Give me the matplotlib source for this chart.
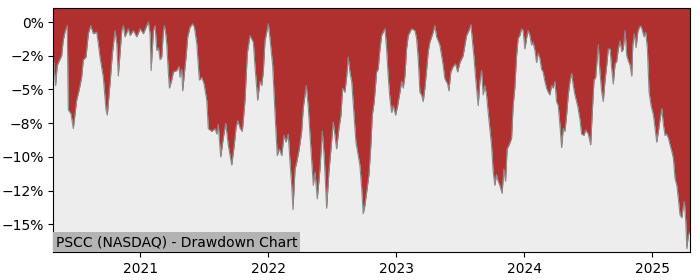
import matplotlib
matplotlib.use("Agg")
import matplotlib.pyplot as plt
import matplotlib.dates as mdates
from matplotlib.ticker import PercentFormatter
import numpy as np
import pandas as pd

# time axis as decimal years, drawdown in percent
years = [
    2020.321, 2020.339, 2020.352, 2020.386, 2020.398, 2020.412, 2020.430, 2020.438, 2020.459, 2020.477,
    2020.503, 2020.521, 2020.542, 2020.555, 2020.576, 2020.594, 2020.613, 2020.633, 2020.659, 2020.672,
    2020.685, 2020.711, 2020.732, 2020.742, 2020.763, 2020.781, 2020.802, 2020.816, 2020.828, 2020.855,
    2020.867, 2020.880, 2020.906, 2020.920, 2020.945, 2020.972, 2020.998, 2021.023, 2021.050, 2021.063,
    2021.076, 2021.084, 2021.102, 2021.115, 2021.128, 2021.141, 2021.154, 2021.167, 2021.180, 2021.188,
    2021.198, 2021.206, 2021.219, 2021.227, 2021.245, 2021.258, 2021.284, 2021.302, 2021.310, 2021.323,
    2021.331, 2021.344, 2021.357, 2021.370, 2021.388, 2021.409, 2021.422, 2021.441, 2021.461, 2021.480,
    2021.498, 2021.519, 2021.531, 2021.558, 2021.584, 2021.597, 2021.609, 2021.628, 2021.648, 2021.667,
    2021.687, 2021.714, 2021.734, 2021.748, 2021.761, 2021.781, 2021.797, 2021.818, 2021.836, 2021.857,
    2021.883, 2021.896, 2021.917, 2021.935, 2021.948, 2021.961, 2021.974, 2021.982, 2022.000, 2022.013,
    2022.034, 2022.052, 2022.070, 2022.086, 2022.105, 2022.123, 2022.138, 2022.156, 2022.170, 2022.183,
    2022.193, 2022.209, 2022.222, 2022.242, 2022.261, 2022.273, 2022.287, 2022.297, 2022.313, 2022.331,
    2022.352, 2022.365, 2022.383, 2022.404, 2022.422, 2022.438, 2022.456, 2022.474, 2022.490, 2022.508,
    2022.521, 2022.534, 2022.552, 2022.568, 2022.581, 2022.599, 2022.613, 2022.625, 2022.638, 2022.652,
    2022.670, 2022.685, 2022.703, 2022.716, 2022.730, 2022.742, 2022.755, 2022.769, 2022.787, 2022.802,
    2022.813, 2022.828, 2022.847, 2022.859, 2022.873, 2022.886, 2022.898, 2022.912, 2022.925, 2022.937,
    2022.951, 2022.964, 2022.977, 2022.995, 2023.011, 2023.029, 2023.042, 2023.055, 2023.068, 2023.081,
    2023.094, 2023.120, 2023.146, 2023.159, 2023.172, 2023.185, 2023.198, 2023.211, 2023.224, 2023.238,
    2023.250, 2023.263, 2023.289, 2023.302, 2023.316, 2023.341, 2023.355, 2023.367, 2023.380, 2023.402,
    2023.412, 2023.427, 2023.445, 2023.464, 2023.480, 2023.498, 2023.523, 2023.537, 2023.550, 2023.568,
    2023.584, 2023.589, 2023.607, 2023.623, 2023.641, 2023.654, 2023.667, 2023.680, 2023.693, 2023.706,
    2023.719, 2023.732, 2023.745, 2023.758, 2023.771, 2023.784, 2023.797, 2023.810, 2023.828, 2023.841,
    2023.855, 2023.867, 2023.883, 2023.902, 2023.914, 2023.927, 2023.941, 2023.953, 2023.966, 2023.980,
    2023.992, 2024.006, 2024.019, 2024.031, 2024.045, 2024.058, 2024.070, 2024.084, 2024.097, 2024.109,
    2024.123, 2024.136, 2024.148, 2024.162, 2024.175, 2024.188, 2024.201, 2024.214, 2024.227, 2024.240,
    2024.253, 2024.266, 2024.279, 2024.292, 2024.305, 2024.318, 2024.331, 2024.344, 2024.357, 2024.370,
    2024.383, 2024.396, 2024.417, 2024.435, 2024.448, 2024.466, 2024.480, 2024.500, 2024.519, 2024.531,
    2024.545, 2024.558, 2024.570, 2024.578, 2024.591, 2024.605, 2024.617, 2024.630, 2024.644, 2024.656,
    2024.670, 2024.683, 2024.695, 2024.709, 2024.722, 2024.734, 2024.748, 2024.761, 2024.773, 2024.787,
    2024.800, 2024.813, 2024.826, 2024.839, 2024.847, 2024.859, 2024.873, 2024.886, 2024.898, 2024.912,
    2024.925, 2024.935, 2024.948, 2024.961, 2024.974, 2024.990, 2025.008, 2025.021, 2025.034, 2025.047,
    2025.060, 2025.073, 2025.086, 2025.099, 2025.112, 2025.125, 2025.138, 2025.152, 2025.164, 2025.177,
    2025.191, 2025.203, 2025.216, 2025.230, 2025.242, 2025.250, 2025.261, 2025.269, 2025.281, 2025.294,
]
drawdown = [
    -2.6, -4.7, -3.2, -2.5, -1.4, -0.75, -0.26, -6.5, -6.8, -7.9,
    -5.8, -5.1, -4.1, -2.8, -2.6, -0.87, -0.26, -0.87, -0.75, -1.6,
    -2.6, -4.1, -6.5, -6.9, -4.6, -2.4, -0.63, -1.6, -4.0, -0.63,
    -0.26, -1.1, -0.5, -1.0, -0.63, -1.1, -0.5, -0.87, -0.26, 0.0,
    -0.87, -3.6, -0.63, -0.26, -2.1, -1.9, -2.8, -2.6, -0.63, -0.26,
    -0.87, -1.6, -3.8, -4.9, -4.3, -3.7, -3.6, -3.3, -4.1, -3.5,
    -5.1, -3.8, -2.6, -1.1, -0.38, -0.13, -0.38, -1.6, -4.3, -4.1,
    -4.6, -5.8, -7.9, -8.1, -7.9, -8.3, -7.6, -10.0, -8.6, -7.5,
    -9.1, -10.6, -9.1, -7.8, -7.3, -7.9, -8.1, -5.8, -2.3, -1.0,
    -1.5, -3.3, -5.8, -4.4, -4.7, -3.7, -1.4, -1.0, -0.13, -1.2,
    -3.2, -6.7, -9.9, -9.4, -9.9, -8.4, -8.9, -8.3, -10.4, -12.1,
    -13.9, -10.9, -10.4, -9.4, -8.1, -6.4, -5.4, -4.7, -6.4, -9.1,
    -12.1, -11.1, -13.1, -10.9, -8.1, -10.1, -13.8, -11.1, -9.4, -7.4,
    -8.4, -9.4, -7.9, -6.9, -4.9, -5.2, -4.0, -2.6, -3.7, -4.4,
    -6.9, -8.9, -9.9, -10.6, -12.3, -14.2, -13.6, -12.6, -11.3, -9.1,
    -6.9, -5.9, -3.7, -3.5, -2.0, -1.0, -0.75, -0.5, -2.0, -4.0,
    -5.7, -6.7, -6.2, -6.9, -6.2, -5.2, -4.4, -4.9, -4.0, -2.0,
    -1.0, -0.5, -0.63, -1.2, -2.7, -5.2, -5.4, -5.9, -4.9, -3.5,
    -2.2, -1.5, -0.75, -0.26, -1.1, -1.7, -2.5, -3.2, -4.2, -4.6,
    -5.1, -3.7, -3.3, -3.1, -3.7, -3.0, -2.5, -1.7, -1.0, -0.63,
    -0.2, -0.75, -2.5, -4.4, -6.2, -4.4, -3.6, -5.4, -4.7, -5.4,
    -6.7, -7.9, -9.1, -11.1, -12.1, -11.3, -11.8, -12.1, -12.7, -10.9,
    -11.8, -9.4, -9.1, -8.6, -6.2, -4.9, -2.5, -1.2, -1.0, -0.5,
    -0.63, -2.0, -1.2, -0.63, -1.0, -1.7, -1.5, -2.1, -3.0, -2.3,
    -2.7, -3.5, -3.7, -4.4, -4.9, -5.2, -5.4, -4.7, -4.9, -4.4,
    -5.9, -6.2, -7.6, -9.3, -7.9, -8.1, -6.9, -5.4, -4.4, -3.8,
    -4.7, -5.4, -6.2, -7.2, -8.3, -8.4, -8.0, -8.3, -9.1, -6.7,
    -4.3, -4.1, -2.7, -1.7, -3.7, -5.2, -5.9, -4.4, -3.2, -2.0,
    -2.0, -3.5, -4.6, -3.1, -2.9, -2.0, -1.4, -2.2, -2.0, -0.63,
    -2.5, -2.9, -3.2, -4.0, -1.7, -0.87, -1.9, -0.75, -0.38, -0.3,
    -0.75, -1.1, -0.75, -2.0, -5.2, -6.2, -6.9, -7.9, -8.9, -8.1,
    -7.2, -6.4, -7.6, -8.4, -8.3, -8.6, -9.1, -9.6, -10.1, -11.6,
    -12.1, -13.1, -14.3, -14.5, -13.6, -13.3, -14.8, -16.8, -15.8, -15.5,
]
yticks = [0, -2.5, -5, -7.5, -10, -12.5, -15]
title = "PSCC (NASDAQ) - Drawdown Chart"


def to_dates(decimal_years):
    out = []
    for v in decimal_years:
        y = int(np.floor(v))
        start = pd.Timestamp(year=y, month=1, day=1)
        length = (pd.Timestamp(year=y + 1, month=1, day=1) - start).days
        out.append(start + pd.Timedelta(days=(v - y) * length))
    return pd.DatetimeIndex(out)


dates = to_dates(years)
dd = np.array(drawdown)

fig = plt.figure(figsize=(7, 2.8), dpi=100)
ax = fig.add_axes([0.0761, 0.1, 0.9096, 0.873])
ax.set_facecolor("#ededed")

top = 1.07
ax.fill_between(dates, dd, top, color="#b03030", lw=0)
ax.plot(dates, dd, color="#8a8a8a", lw=0.8)

ax.set_xlim(dates[0], dates[-1])
ax.set_ylim(-17.04, top)
ax.set_yticks(yticks)
ax.yaxis.set_major_formatter(PercentFormatter(decimals=0))
ax.xaxis.set_major_locator(mdates.YearLocator())
ax.xaxis.set_major_formatter(mdates.DateFormatter("%Y"))

ax.text(0.004, 0.012, title, transform=ax.transAxes, fontsize=10,
        ha="left", va="bottom",
        bbox=dict(facecolor="#b3b3b3", edgecolor="none", pad=2))

fig.savefig("out.png", dpi=100)
